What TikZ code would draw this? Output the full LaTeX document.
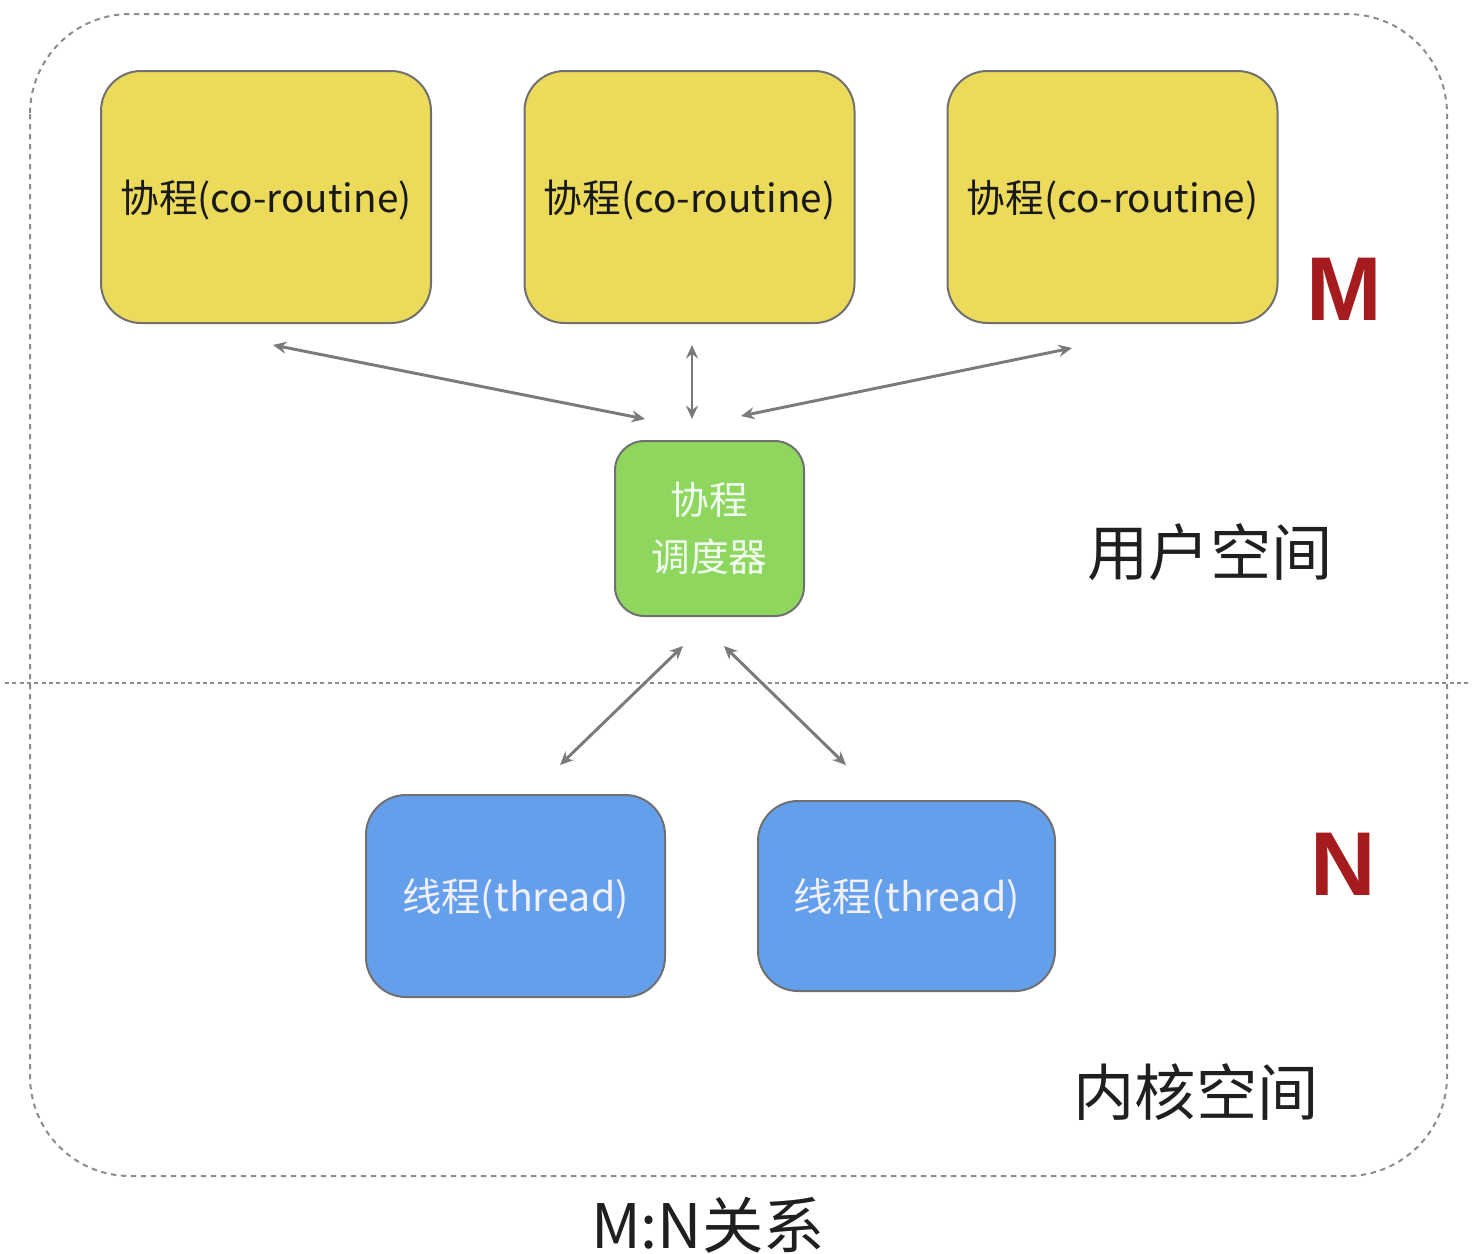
\documentclass[tikz,border=0pt]{standalone}
\usepackage{fontspec}
\setmainfont{Noto Sans CJK SC}
\newfontfamily\mnfont{Liberation Sans}
\usetikzlibrary{arrows.meta,calc}

\definecolor{coyellow}{RGB}{236,218,90}
\definecolor{schedgreen}{RGB}{142,214,94}
\definecolor{thblue}{RGB}{100,159,235}
\definecolor{boxgray}{RGB}{112,112,112}
\definecolor{arrowgray}{RGB}{122,122,122}
\definecolor{framegray}{RGB}{140,140,140}
\definecolor{mnred}{RGB}{166,28,30}

\tikzset{every picture/.style={line width=0.75pt}}
\tikzset{
	cobox/.style={draw=boxgray, line width=1.5pt, fill=coyellow, rounded corners=30pt, minimum width=247.5pt, minimum height=189pt, text=black!90, text height=29pt, text depth=5.8pt, font=\fontsize{29}{36}\selectfont},
	schedbox/.style={draw=boxgray, line width=1.5pt, fill=schedgreen, rounded corners=22pt, minimum width=141.75pt, minimum height=131.25pt, text=white!94!green, align=center, font=\fontsize{29}{43}\selectfont},
	thbox/.style={draw=boxgray, line width=1.5pt, fill=thblue, rounded corners=30pt, minimum height=151.5pt, text=white!94!blue, text height=29.5pt, text depth=5.9pt, font=\fontsize{29.5}{36}\selectfont},
	biarrow/.style={draw=arrowgray, line width=2.2pt, {Stealth[length=10pt,width=9pt]}-{Stealth[length=10pt,width=9pt]}},
	mnlabel/.style={text=mnred, anchor=base, font=\mnfont\bfseries\fontsize{68}{68}\selectfont},
	spacelabel/.style={text=black!88, font=\fontsize{46}{50}\selectfont}
}

\begin{document}
\begin{tikzpicture}[x=0.75pt,y=0.75pt,yscale=-1,xscale=1]
	\useasboundingbox (0,0) rectangle (1472,1254);
	
	%Shape: Rounded Rect frame
	\draw [draw=framegray, line width=1.5pt, dash pattern=on 4pt off 3.5pt, rounded corners=75pt] (30,14) rectangle (1447,1176) ;
	%Straight Lines divider
	\draw [draw=framegray, line width=1.5pt, dash pattern=on 3pt off 2.5pt] (5,683) -- (1468,683) ;
	
	%Shape: co-routine boxes
	\node [cobox] (co1) at (266,197) {协程(co-routine)};
	\node [cobox] (co2) at (689.5,197) {协程(co-routine)};
	\node [cobox] (co3) at (1112.5,197) {协程(co-routine)};
	%Shape: scheduler
	\node [schedbox] (sched) at (709.5,528.5) {协程\\调度器};
	%Shape: thread boxes
	\node [thbox, minimum width=224.25pt] (th1) at (515.5,896) {线程(thread)};
	\node [thbox, minimum width=222.75pt, minimum height=142.5pt] (th2) at (906.5,896) {线程(thread)};
	
	%Straight Lines arrows
	\draw [biarrow] ($(co1.south)+(7,21)$) -- ($(sched.north)+(-64.5,-21)$) ;
	\draw [biarrow] ($(co2.south)+(2.5,21)$) -- ($(sched.north)+(-17.5,-21)$) ;
	\draw [biarrow] ($(co3.south)+(-40.5,24)$) -- ($(sched.north)+(31.5,-24)$) ;
	\draw [biarrow] ($(sched.south)+(-26.5,29)$) -- ($(th1.north)+(44.5,-29)$) ;
	\draw [biarrow] ($(sched.south)+(14.5,29)$) -- ($(th2.north)+(-60.5,-35)$) ;
	
	% Text Node
	\node [mnlabel] (mlabel) at (1344,320) {M};
	% Text Node
	\node [mnlabel] (nlabel) at (1343,895) {N};
	% Text Node
	\node [spacelabel] (userspace) at (1210,552) {用户空间};
	% Text Node
	\node [spacelabel] (kernelspace) at (1196,1092) {内核空间};
	% Text Node
	\node [spacelabel] (mnrel) at (708,1225) {M:N关系};
\end{tikzpicture}
\end{document}
